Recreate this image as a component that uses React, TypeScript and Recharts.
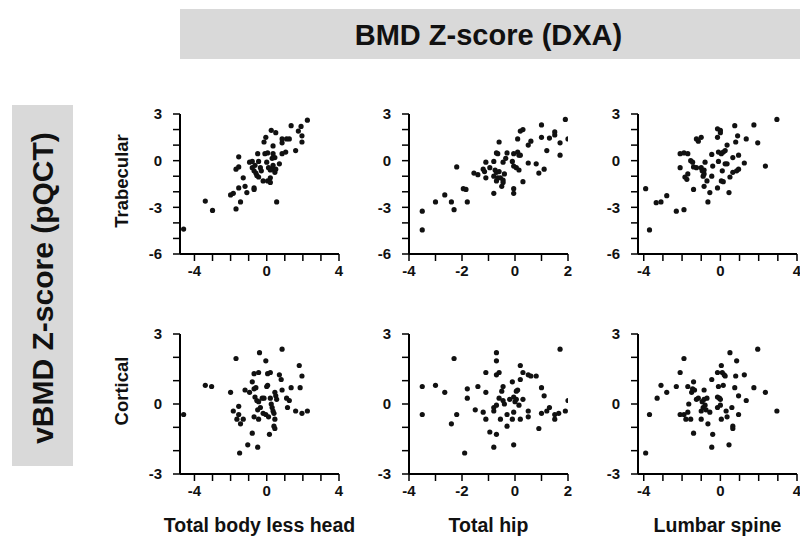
import React from 'react';
import { ScatterChart, Scatter, XAxis, YAxis } from 'recharts';

// ---------- data ----------
const headerTitle = 'BMD Z-score (DXA)';
const sideTitle = 'vBMD Z-score (pQCT)';
const rowLabels = ['Trabecular', 'Cortical'];
const colLabels = ['Total body less head', 'Total hip', 'Lumbar spine'];

const xTicksTBLH = [-4, -3, -2, -1, 0, 1, 2, 3, 4];
const xLabelsTBLH = [-4, 0, 4];
const xTicksHip = [-4, -3, -2, -1, 0, 1, 2];
const xLabelsHip = [-4, -2, 0, 2];
const xTicksSpine = [-4, -3, -2, -1, 0, 1, 2, 3, 4];
const xLabelsSpine = [-4, 0, 4];
const yTicksTrab = [-6, -5, -4, -3, -2, -1, 0, 1, 2, 3];
const yLabelsTrab = [-6, -3, 0, 3];
const yTicksCort = [-3, -2, -1, 0, 1, 2, 3];
const yLabelsCort = [-3, 0, 3];

const trabTBLH: number[][] = [
  [-4.6, -4.4], [-3.4, -2.6], [-3.0, -3.2], [-1.7, -3.1], [-1.45, -2.65], [-2.0, -2.2], [-1.85, -2.1],
  [-1.55, -1.75], [-1.2, -1.65], [-1.1, -2.05], [-1.3, -1.1], [-1.7, -0.55], [-1.55, -0.4], [-1.55, 0.25],
  [-0.7, -1.75], [-0.7, -1.85], [-0.5, 0.45], [-0.95, -0.1], [-0.8, -0.05], [-0.8, -0.45], [-0.7, -0.65],
  [-0.6, -0.8], [-0.55, -0.95], [-0.45, -1.05], [-0.65, -0.3], [-0.45, -0.05], [-0.35, -0.45], [-0.3, -0.65],
  [-0.2, -1.3], [0.05, -1.3], [0.2, -1.4], [0.2, -1.1], [-0.1, 0.45], [0.05, 0.5], [0.0, -0.1], [-0.15, 1.2],
  [-0.05, 1.5], [0.25, 1.95], [0.5, 1.8], [0.35, 0.95], [0.35, 0.45], [0.45, 0.2], [0.3, 0.15], [0.1, -0.45],
  [0.3, -0.55], [0.45, -0.75], [0.5, -0.55], [0.35, -0.3], [0.2, -0.6], [0.7, -0.2], [0.55, -2.65],
  [0.85, 1.15], [0.85, 1.4], [1.1, 1.4], [1.25, 1.4], [0.85, 0.45], [1.05, 0.55], [1.35, 2.25], [1.6, 0.65],
  [1.75, 1.9], [1.9, 2.2], [1.95, 1.6], [1.95, 1.2], [2.25, 2.6],
];

const trabHip: number[][] = [
  [-3.5, -3.25], [-3.5, -4.45], [-3.0, -2.65], [-2.65, -2.2], [-2.4, -2.65], [-2.3, -3.15], [-2.2, -0.4],
  [-1.95, -1.8], [-1.85, -1.85], [-1.8, -2.65], [-1.55, -0.8], [-1.4, -0.9], [-1.2, -0.55], [-1.15, -0.7],
  [-1.1, -0.1], [-1.1, -1.1], [-0.95, -0.45], [-0.8, -0.05], [-0.8, -1.0], [-0.8, -2.1], [-0.75, -0.6],
  [-0.7, -0.75], [-0.7, 0.5], [-0.65, 0.45], [-0.6, 1.2], [-0.7, -1.3], [-0.65, -1.1], [-0.6, -0.7],
  [-0.55, -1.1], [-0.5, -1.65], [-0.45, -1.25], [-0.45, -1.4], [-0.4, -0.85], [-0.45, -0.1], [-0.35, 0.15],
  [-0.3, 0.5], [-0.1, -0.05], [-0.05, 0.45], [-0.05, -0.35], [0.05, -0.45], [0.1, 0.55], [0.15, 0.35],
  [0.15, -0.6], [0.2, 0.35], [-0.05, -1.8], [-0.05, -2.1], [0.1, 1.4], [0.2, 1.9], [0.3, 2.0], [0.3, -1.35],
  [0.5, -0.15], [0.5, 1.0], [0.6, 1.25], [0.8, -0.2], [0.9, -0.8], [1.0, 2.3], [1.0, 1.5], [1.1, -0.55],
  [1.2, 0.65], [1.3, 1.45], [1.5, 1.85], [1.5, 1.65], [1.7, 1.15], [1.7, 0.35], [1.9, 2.65], [2.0, 1.4],
];

const trabSpine: number[][] = [
  [-3.9, -1.8], [-3.7, -4.45], [-3.35, -2.7], [-3.1, -2.65], [-2.8, -2.25], [-2.3, -3.25], [-1.9, -3.15],
  [-2.1, -0.45], [-2.1, 0.45], [-1.9, 0.5], [-1.7, 0.45], [-1.85, -1.05], [-1.75, -1.2], [-1.7, -0.85],
  [-1.55, 0.0], [-1.45, -0.1], [-1.4, -0.4], [-1.25, -0.45], [-1.4, -1.85], [-1.25, 1.4], [-1.15, 1.25],
  [-1.0, 1.5], [-1.0, -0.45], [-0.95, -0.65], [-0.9, -1.0], [-0.85, -0.85], [-0.85, -0.6], [-0.8, -0.1],
  [-0.85, -1.65], [-0.7, -1.3], [-0.65, -2.65], [-0.55, -2.05], [-0.45, 0.4], [-0.4, -0.35], [-0.45, -1.0],
  [-0.15, 1.5], [-0.15, 2.05], [0.0, 1.95], [0.0, 1.8], [-0.15, -1.75], [-0.1, -0.05], [-0.1, 0.55],
  [0.05, 0.45], [0.1, -0.65], [0.05, -1.3], [0.15, -1.35], [0.15, 0.55], [0.25, 0.65], [0.35, 1.0],
  [0.25, -0.2], [0.35, -0.2], [0.45, -2.05], [0.5, -1.05], [0.65, 0.2], [0.65, -0.75], [0.75, 2.25],
  [0.8, 1.2], [0.85, -0.65], [0.95, -0.55], [0.95, 0.35], [0.9, 1.6], [1.25, -0.15], [1.35, 1.4],
  [1.75, 2.3], [1.95, 1.15], [2.35, -0.35], [2.95, 2.65],
];

const cortTBLH: number[][] = [
  [-4.6, -0.45], [-3.4, 0.8], [-3.05, 0.75], [-2.0, 0.5], [-1.85, -0.3], [-1.7, 1.95], [-1.65, -0.65],
  [-1.55, -0.1], [-1.55, -0.45], [-1.45, -0.85], [-1.3, -0.65], [-1.5, -2.1], [-1.2, 0.6], [-1.05, -1.75],
  [-0.95, 0.5], [-0.8, -1.25], [-0.8, 0.95], [-0.7, 1.3], [-0.7, 0.65], [-0.65, 0.3], [-0.6, 0.7],
  [-0.7, -0.55], [-0.55, 0.15], [-0.5, -0.25], [-0.5, -1.85], [-0.45, 1.35], [-0.45, 0.1], [-0.45, -0.65],
  [-0.4, 2.2], [-0.35, -0.15], [-0.25, 0.25], [-0.2, -0.4], [-0.15, 0.25], [-0.05, 1.85], [-0.05, -0.45],
  [0.0, 0.75], [0.05, 0.8], [0.05, 1.3], [0.2, 1.35], [0.1, -0.55], [0.15, -1.3], [0.2, 0.25], [0.25, 0.0],
  [0.3, -0.15], [0.35, -0.3], [0.4, -0.4], [0.4, -0.95], [0.45, -1.05], [0.45, -0.65], [0.45, 0.5],
  [0.5, 0.35], [0.55, 0.2], [0.7, 1.25], [0.8, 1.05], [0.85, 2.35], [0.85, 0.6], [1.1, 0.25], [1.15, -0.15],
  [1.25, 0.15], [1.35, 0.7], [1.6, -0.3], [1.8, 1.65], [1.85, 0.7], [1.95, 1.2], [1.95, -0.4], [2.25, -0.3],
];

const cortHip: number[][] = [
  [-3.5, 0.75], [-3.5, -0.45], [-3.0, 0.8], [-2.65, 0.5], [-2.4, -0.85], [-2.3, 1.95], [-2.2, -0.45],
  [-1.9, -2.1], [-1.8, 0.65], [-1.8, 0.25], [-1.5, -0.25], [-1.4, 0.75], [-1.2, -0.35], [-1.1, 0.5],
  [-1.1, 1.35], [-1.1, -0.65], [-0.95, -1.2], [-0.8, -0.15], [-0.8, -0.3], [-0.8, -1.85], [-0.7, -0.05],
  [-0.7, 2.2], [-0.7, 1.85], [-0.7, -1.3], [-0.7, 1.25], [-0.6, 1.35], [-0.6, 0.25], [-0.55, -0.65],
  [-0.5, 0.55], [-0.45, 0.75], [-0.45, 0.15], [-0.4, 0.0], [-0.3, -0.95], [-0.3, -0.45], [-0.2, 0.2],
  [-0.1, 0.95], [-0.1, -0.65], [-0.05, -0.35], [-0.05, -1.75], [-0.05, 0.3], [0.0, 0.1], [0.05, 0.2],
  [0.05, 0.55], [0.1, 0.6], [0.15, -0.05], [0.2, -0.65], [0.2, 1.05], [0.2, 1.65], [0.3, 0.2], [0.3, 1.35],
  [0.5, 1.25], [0.5, -0.3], [0.5, -0.55], [0.6, 1.2], [0.8, 1.2], [0.9, -1.05], [1.0, 0.7], [1.0, -0.4],
  [1.1, 0.35], [1.2, -0.3], [1.3, -0.15], [1.5, -0.45], [1.5, -0.65], [1.65, -0.4], [1.7, 2.35],
  [1.9, -0.3], [2.0, 0.15],
];

const cortSpine: number[][] = [
  [-3.9, -2.1], [-3.7, -0.45], [-3.3, 0.25], [-3.1, 0.8], [-2.8, 0.5], [-2.3, 0.75], [-2.1, 1.35],
  [-2.1, -0.45], [-1.9, 1.95], [-1.9, -0.45], [-1.8, -0.65], [-1.7, 0.75], [-1.7, -0.35], [-1.65, 0.0],
  [-1.55, -0.65], [-1.5, 0.5], [-1.45, 0.65], [-1.4, 0.95], [-1.4, -1.25], [-1.35, 0.6], [-1.25, 0.2],
  [-1.15, 0.25], [-1.0, -0.3], [-1.0, -0.65], [-0.95, 0.1], [-0.9, -0.15], [-0.85, 0.6], [-0.85, 0.2],
  [-0.8, -0.05], [-0.75, -0.25], [-0.7, 0.25], [-0.65, -0.85], [-0.55, -0.35], [-0.45, -1.85],
  [-0.45, 1.05], [-0.4, -1.3], [-0.15, 1.35], [-0.15, 0.3], [-0.15, -0.15], [-0.1, 0.75], [-0.05, 0.25],
  [0.0, 0.2], [0.0, -0.05], [0.05, -0.65], [0.05, 1.65], [0.1, 1.35], [0.15, 0.8], [0.2, 1.25], [0.25, 1.2],
  [0.3, -0.3], [0.35, -0.55], [0.45, -1.75], [0.5, 2.2], [0.6, -0.15], [0.65, -0.95], [0.65, -1.05],
  [0.75, 0.7], [0.8, 1.2], [0.85, 1.85], [0.95, 0.35], [0.95, -0.45], [1.25, 1.25], [1.35, 0.15],
  [1.75, 0.7], [1.95, 2.35], [2.35, 0.5], [2.95, -0.3],
];

// ---------- layout / style ----------
const FONT = '"Liberation Sans", Arial, Helvetica, sans-serif';
const PLOT_W = 159;
const PLOT_H = 140;
const ML = 60;
const MT = 10;
const MR = 20;
const MB = 30;
const colLeft = [180, 409, 638];
const rowTop = [114, 334];

const toPoints = (arr: number[][]) => arr.map(([x, y]) => ({ x, y }));

const Dot = (props: any) => {
  const { cx, cy } = props;
  if (cx == null || cy == null) return null;
  return <circle cx={cx} cy={cy} r={2.6} fill="#111" />;
};

const makeXTick = (labels: number[]) => (props: any) => {
  const { x, y, payload } = props;
  const v = payload?.value;
  if (!labels.includes(v)) return <g />;
  return (
    <text x={x} y={y} dy="0.71em" textAnchor="middle" fill="#111"
      style={{ fontSize: 15, fontWeight: 700, fontFamily: FONT }}>
      {String(v)}
    </text>
  );
};

const makeYTick = (labels: number[]) => (props: any) => {
  const { x, y, payload } = props;
  const v = payload?.value;
  if (!labels.includes(v)) return <g />;
  return (
    <text x={x} y={y} dy="0.36em" textAnchor="end" fill="#111"
      style={{ fontSize: 15, fontWeight: 700, fontFamily: FONT }}>
      {String(v)}
    </text>
  );
};

interface PanelProps {
  data: number[][];
  xDomain: number[];
  xTicks: number[];
  xLabels: number[];
  yDomain: number[];
  yTicks: number[];
  yLabels: number[];
  left: number;
  top: number;
}

function Panel({ data, xDomain, xTicks, xLabels, yDomain, yTicks, yLabels, left, top }: PanelProps) {
  return (
    <div style={{ position: 'absolute', left: left - ML, top: top - MT }}>
      <ScatterChart
        width={ML + PLOT_W + MR}
        height={MT + PLOT_H + MB}
        margin={{ top: MT, right: MR, bottom: 0, left: 0 }}
      >
        <XAxis
          type="number"
          dataKey="x"
          domain={xDomain}
          ticks={xTicks}
          interval={0}
          allowDataOverflow
          height={MB}
          axisLine={{ stroke: '#000', strokeWidth: 2 }}
          tickLine={{ stroke: '#000', strokeWidth: 1.5 }}
          tickSize={7}
          tickMargin={4}
          tick={makeXTick(xLabels)}
        />
        <YAxis
          type="number"
          dataKey="y"
          domain={yDomain}
          ticks={yTicks}
          interval={0}
          allowDataOverflow
          width={ML}
          axisLine={{ stroke: '#000', strokeWidth: 2 }}
          tickLine={{ stroke: '#000', strokeWidth: 1.5 }}
          tickSize={7}
          tickMargin={11}
          tick={makeYTick(yLabels)}
        />
        <Scatter data={toPoints(data)} isAnimationActive={false} shape={Dot} />
      </ScatterChart>
    </div>
  );
}

export default function App() {
  const xCfg = [
    { domain: [-4.8, 4], ticks: xTicksTBLH, labels: xLabelsTBLH },
    { domain: [-4, 2], ticks: xTicksHip, labels: xLabelsHip },
    { domain: [-4.3, 4], ticks: xTicksSpine, labels: xLabelsSpine },
  ];
  const yCfg = [
    { domain: [-6, 3], ticks: yTicksTrab, labels: yLabelsTrab },
    { domain: [-3, 3], ticks: yTicksCort, labels: yLabelsCort },
  ];
  const grid = [
    [trabTBLH, trabHip, trabSpine],
    [cortTBLH, cortHip, cortSpine],
  ];
  const rowLabelCenters = [181, 391];

  return (
    <div
      style={{
        position: 'absolute',
        left: 0,
        top: 0,
        width: 800,
        height: 543,
        overflow: 'hidden',
        background: '#fff',
        fontFamily: FONT,
      }}
    >
      {/* header box */}
      <div
        style={{
          position: 'absolute',
          left: 180,
          top: 9,
          width: 620,
          height: 50,
          background: '#d9d9d9',
          display: 'flex',
          alignItems: 'center',
          justifyContent: 'center',
          fontSize: 29,
          fontWeight: 700,
          color: '#111',
          boxSizing: 'border-box',
        }}
      >
        <span style={{ marginLeft: -3, marginTop: 2 }}>{headerTitle}</span>
      </div>

      {/* side box */}
      <div
        style={{
          position: 'absolute',
          left: 12,
          top: 105,
          width: 61,
          height: 361,
          background: '#d9d9d9',
        }}
      >
        <div
          style={{
            position: 'absolute',
            left: 30.5,
            top: 183,
            transform: 'translate(-50%, -50%) rotate(-90deg)',
            whiteSpace: 'nowrap',
            fontSize: 30,
            fontWeight: 700,
            color: '#111',
            lineHeight: '34px',
          }}
        >
          {sideTitle}
        </div>
      </div>

      {/* row labels */}
      {rowLabels.map((lab, i) => (
        <div
          key={lab}
          style={{
            position: 'absolute',
            left: 121,
            top: rowLabelCenters[i],
            transform: 'translate(-50%, -50%) rotate(-90deg)',
            whiteSpace: 'nowrap',
            fontSize: 18.5,
            fontWeight: 700,
            color: '#111',
            lineHeight: '21px',
          }}
        >
          {lab}
        </div>
      ))}

      {/* panels */}
      {grid.map((row, r) =>
        row.map((d, c) => (
          <Panel
            key={`${r}-${c}`}
            data={d}
            xDomain={xCfg[c].domain}
            xTicks={xCfg[c].ticks}
            xLabels={xCfg[c].labels}
            yDomain={yCfg[r].domain}
            yTicks={yCfg[r].ticks}
            yLabels={yCfg[r].labels}
            left={colLeft[c]}
            top={rowTop[r]}
          />
        ))
      )}

      {/* column titles */}
      {colLabels.map((lab, c) => (
        <div
          key={lab}
          style={{
            position: 'absolute',
            left: colLeft[c] + PLOT_W / 2 - 120,
            width: 240,
            top: 515,
            textAlign: 'center',
            fontSize: 19.5,
            fontWeight: 700,
            color: '#111',
            lineHeight: '20px',
            whiteSpace: 'nowrap',
          }}
        >
          {lab}
        </div>
      ))}
    </div>
  );
}
